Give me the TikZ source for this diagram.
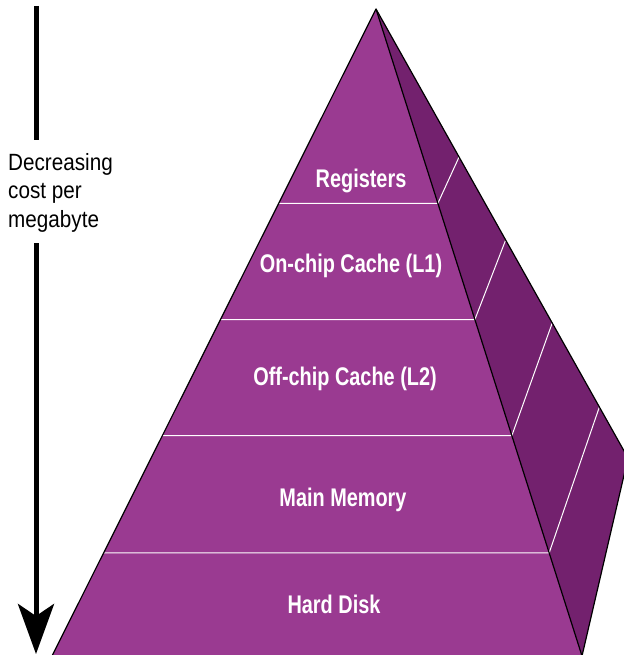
\documentclass[tikz,border=0pt]{standalone}
\usepackage{fontspec}
\setmainfont{Liberation Sans}
\newfontfamily\leftfont[FakeStretch=0.88]{Liberation Sans}
\newfontfamily\labfont[FakeStretch=0.78]{Liberation Sans}
\usetikzlibrary{arrows.meta,calc}
\definecolor{frontc}{HTML}{9A3A91}
\definecolor{sidec}{HTML}{73216E}
\tikzset{
  edge/.style={black,line width=1.2pt,line join=round},
  band/.style={white,line width=1pt},
  lab/.style={white,anchor=base,inner sep=0pt,font=\labfont\bfseries\fontsize{25.5}{28}\selectfont},
  costarrow/.style={black,line width=5pt},
}
\begin{document}
\begin{tikzpicture}[x=1pt,y=-1pt]
\useasboundingbox (0,0) rectangle (623,655);
% pyramid corners
\coordinate (A) at (376,9);
\coordinate (BL) at (52,656);
\coordinate (BR) at (582,656);
\coordinate (R) at (628,458);
% faces
\fill[frontc] (A) -- (BL) -- (BR) -- cycle;
\fill[sidec] (A) -- (R) -- (BR) -- cycle;
% band lines on the front face
\foreach \t/\s [count=\i] in {0.3003/0.3296,0.4799/0.5145,0.6594/0.6993,0.8406/0.8864}{
  \coordinate (L\i) at ($(A)!\t!(BL)$);
  \coordinate (F\i) at ($(A)!\t!(BR)$);
  \coordinate (S\i) at ($(A)!\s!(R)$);
  \draw[band] (L\i) -- (F\i) -- (S\i);
}
% outlines
\draw[edge] (BL) -- (A) -- (BR);
\draw[edge] (A) -- (R) -- (BR);
% labels
\node[lab] (reg) at (361,187) {Registers};
\node[lab] (l1) at (351,272) {On-chip Cache (L1)};
\node[lab] (l2) at (345,385) {Off-chip Cache (L2)};
\node[lab] (mm) at (343,506) {Main Memory};
\node[lab] (hd) at (334,613) {Hard Disk};
% cost arrow
\node[anchor=north west,inner sep=0pt,align=left,
      font=\leftfont\fontsize{23.5}{28.5}\selectfont] (cost) at (8,153)
  {Decreasing\\cost per\\megabyte};
\coordinate (top) at (36,6);
\coordinate (topend) at (36,140);
\coordinate (botstart) at (36,243);
\coordinate (tip) at (36,654);
\draw[costarrow] (top) -- (topend);
\draw[costarrow,-{Stealth[length=50pt,width=36pt,inset=12pt]}] (botstart) -- (tip);
\end{tikzpicture}
\end{document}
